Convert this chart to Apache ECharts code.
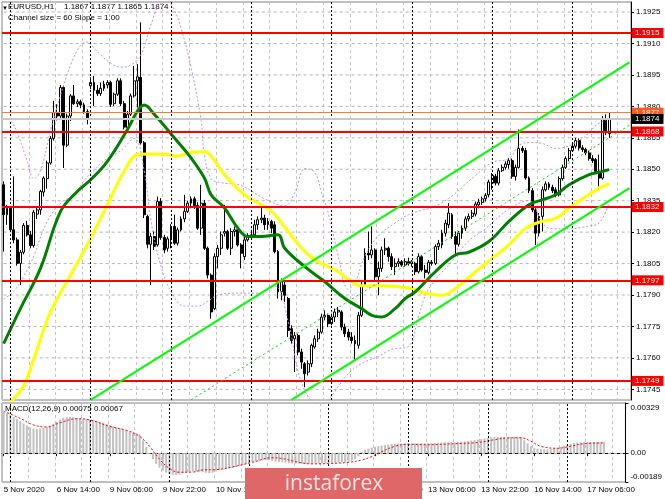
<!DOCTYPE html>
<html>
<head>
<meta charset="utf-8">
<title>EURUSD H1</title>
<script src="https://cdn.jsdelivr.net/npm/echarts@6.0.0/dist/echarts.min.js"></script>
<style>
  html, body { margin: 0; padding: 0; background: #fff; }
  #chart { width: 665px; height: 499px; }
</style>
</head>
<body>
<div id="chart"></div>
<script>
// hourly bars, [open, close, low, high], 5 Nov 22:00 -> 17 Nov 11:00
const ohlc = [
  [1.18426, 1.18283, 1.18107, 1.18442], [1.18283, 1.18314, 1.18235, 1.18330], [1.18314, 1.18211, 1.18203, 1.18322],
  [1.18211, 1.18163, 1.18147, 1.18466], [1.18163, 1.18051, 1.18040, 1.18174], [1.18051, 1.18104, 1.17947, 1.18115],
  [1.18104, 1.18232, 1.18094, 1.18243], [1.18232, 1.18187, 1.18179, 1.18254], [1.18187, 1.18136, 1.18123, 1.18206],
  [1.18136, 1.18295, 1.18126, 1.18306], [1.18286, 1.18306, 1.18263, 1.18318], [1.18306, 1.18394, 1.18283, 1.18402],
  [1.18391, 1.18458, 1.18370, 1.18466], [1.18455, 1.18530, 1.18407, 1.18541], [1.18530, 1.18647, 1.18522, 1.18658],
  [1.18647, 1.18770, 1.18637, 1.18826], [1.18770, 1.18754, 1.18733, 1.18810], [1.18754, 1.18890, 1.18743, 1.18902],
  [1.18890, 1.18615, 1.18506, 1.18898], [1.18615, 1.18754, 1.18605, 1.18765], [1.18754, 1.18850, 1.18730, 1.18858],
  [1.18850, 1.18813, 1.18807, 1.18902], [1.18813, 1.18822, 1.18797, 1.18834], [1.18822, 1.18807, 1.18791, 1.18832],
  [1.18807, 1.18775, 1.18765, 1.18818], [1.18775, 1.18743, 1.18714, 1.18786], [1.18898, 1.18914, 1.18882, 1.18938],
  [1.18914, 1.18877, 1.18802, 1.18945], [1.18877, 1.18861, 1.18850, 1.18902], [1.18861, 1.18886, 1.18850, 1.18914],
  [1.18886, 1.18906, 1.18874, 1.18922], [1.18902, 1.18914, 1.18886, 1.18925], [1.18914, 1.18810, 1.18797, 1.18922],
  [1.18813, 1.18858, 1.18802, 1.18866], [1.18858, 1.18922, 1.18850, 1.18934], [1.18922, 1.18813, 1.18802, 1.18934],
  [1.18813, 1.18701, 1.18690, 1.18826], [1.18698, 1.18762, 1.18682, 1.18778], [1.18762, 1.18850, 1.18754, 1.18861],
  [1.18850, 1.18922, 1.18842, 1.18993], [1.18922, 1.18941, 1.18794, 1.19001], [1.18938, 1.18626, 1.18618, 1.19201],
  [1.18626, 1.18283, 1.18267, 1.18634], [1.18275, 1.18142, 1.18123, 1.18283], [1.18142, 1.18179, 1.17947, 1.18195],
  [1.18179, 1.18131, 1.18115, 1.18203], [1.18139, 1.18346, 1.18131, 1.18370], [1.18346, 1.18174, 1.18163, 1.18362],
  [1.18174, 1.18115, 1.18099, 1.18187], [1.18123, 1.18168, 1.18107, 1.18179], [1.18168, 1.18227, 1.18123, 1.18238],
  [1.18227, 1.18147, 1.18139, 1.18283], [1.18147, 1.18211, 1.18136, 1.18222], [1.18211, 1.18263, 1.18203, 1.18275],
  [1.18263, 1.18299, 1.18247, 1.18378], [1.18299, 1.18338, 1.18291, 1.18350], [1.18338, 1.18359, 1.18314, 1.18370],
  [1.18359, 1.18327, 1.18311, 1.18370], [1.18327, 1.18219, 1.18211, 1.18343], [1.18219, 1.18338, 1.18187, 1.18426],
  [1.18338, 1.18123, 1.18115, 1.18354], [1.18123, 1.17995, 1.17979, 1.18131], [1.17995, 1.17819, 1.17787, 1.18003],
  [1.17835, 1.18083, 1.17827, 1.18099], [1.18083, 1.18123, 1.18027, 1.18139], [1.18123, 1.18187, 1.18091, 1.18203],
  [1.18195, 1.18203, 1.18179, 1.18330], [1.18203, 1.18123, 1.18115, 1.18211], [1.18123, 1.18203, 1.18091, 1.18219],
  [1.18203, 1.18211, 1.18179, 1.18227], [1.18211, 1.18139, 1.18131, 1.18219], [1.18139, 1.18099, 1.18027, 1.18147],
  [1.18083, 1.18163, 1.18067, 1.18179], [1.18163, 1.18179, 1.18155, 1.18195], [1.18179, 1.18187, 1.18163, 1.18211],
  [1.18187, 1.18235, 1.18179, 1.18259], [1.18235, 1.18259, 1.18211, 1.18275], [1.18259, 1.18267, 1.18243, 1.18322],
  [1.18267, 1.18235, 1.18211, 1.18283], [1.18235, 1.18251, 1.18211, 1.18267], [1.18251, 1.18219, 1.18195, 1.18259],
  [1.18235, 1.18107, 1.18099, 1.18251], [1.18107, 1.17915, 1.17883, 1.18115], [1.17915, 1.17963, 1.17875, 1.17979],
  [1.17947, 1.17899, 1.17867, 1.17963], [1.17883, 1.17731, 1.17699, 1.17891], [1.17739, 1.17683, 1.17668, 1.17755],
  [1.17691, 1.17707, 1.17532, 1.17723], [1.17707, 1.17628, 1.17612, 1.17715], [1.17628, 1.17580, 1.17548, 1.17644],
  [1.17572, 1.17524, 1.17460, 1.17580], [1.17532, 1.17572, 1.17516, 1.17588], [1.17572, 1.17660, 1.17556, 1.17668],
  [1.17652, 1.17691, 1.17644, 1.17707], [1.17691, 1.17723, 1.17676, 1.17739], [1.17723, 1.17795, 1.17715, 1.17811],
  [1.17795, 1.17803, 1.17779, 1.17827], [1.17803, 1.17763, 1.17747, 1.17811], [1.17763, 1.17795, 1.17755, 1.17811],
  [1.17795, 1.17819, 1.17771, 1.17835], [1.17819, 1.17827, 1.17795, 1.17843], [1.17819, 1.17747, 1.17731, 1.17827],
  [1.17747, 1.17715, 1.17699, 1.17763], [1.17723, 1.17699, 1.17683, 1.17739], [1.17699, 1.17683, 1.17668, 1.17723],
  [1.17683, 1.17668, 1.17588, 1.17707], [1.17660, 1.17803, 1.17644, 1.17819], [1.17803, 1.17947, 1.17795, 1.17963],
  [1.17947, 1.18099, 1.17939, 1.18123], [1.18099, 1.18091, 1.18067, 1.18203], [1.18091, 1.18115, 1.18075, 1.18227],
  [1.18115, 1.17987, 1.17971, 1.18123], [1.17987, 1.18027, 1.17899, 1.18059], [1.18027, 1.18115, 1.18011, 1.18131],
  [1.18115, 1.18123, 1.18091, 1.18171], [1.18123, 1.18083, 1.18059, 1.18131], [1.18083, 1.18035, 1.18019, 1.18099],
  [1.18035, 1.18051, 1.17995, 1.18075], [1.18051, 1.18059, 1.18035, 1.18075], [1.18059, 1.18043, 1.18035, 1.18067],
  [1.18043, 1.18059, 1.18035, 1.18075], [1.18059, 1.18051, 1.18040, 1.18078], [1.18051, 1.18059, 1.18035, 1.18067],
  [1.18051, 1.18011, 1.17995, 1.18059], [1.18011, 1.18083, 1.18003, 1.18099], [1.18083, 1.18019, 1.18011, 1.18091],
  [1.18019, 1.18008, 1.17979, 1.18043], [1.18008, 1.18056, 1.17998, 1.18067], [1.18056, 1.18051, 1.18040, 1.18067],
  [1.18051, 1.18131, 1.18043, 1.18142], [1.18131, 1.18147, 1.18115, 1.18163], [1.18139, 1.18195, 1.18123, 1.18211],
  [1.18195, 1.18243, 1.18179, 1.18259], [1.18235, 1.18291, 1.18219, 1.18338], [1.18283, 1.18179, 1.18168, 1.18291],
  [1.18179, 1.18142, 1.18091, 1.18203], [1.18142, 1.18195, 1.18131, 1.18206], [1.18195, 1.18219, 1.18168, 1.18232],
  [1.18219, 1.18263, 1.18206, 1.18275], [1.18263, 1.18275, 1.18251, 1.18289], [1.18275, 1.18291, 1.18263, 1.18306],
  [1.18286, 1.18334, 1.18275, 1.18346], [1.18330, 1.18343, 1.18314, 1.18359], [1.18342, 1.18359, 1.18330, 1.18370],
  [1.18359, 1.18375, 1.18346, 1.18386], [1.18378, 1.18439, 1.18366, 1.18450], [1.18434, 1.18471, 1.18402, 1.18482],
  [1.18466, 1.18434, 1.18423, 1.18478], [1.18434, 1.18493, 1.18423, 1.18506], [1.18493, 1.18509, 1.18487, 1.18522],
  [1.18509, 1.18525, 1.18498, 1.18538], [1.18522, 1.18541, 1.18503, 1.18554], [1.18541, 1.18466, 1.18455, 1.18551],
  [1.18466, 1.18509, 1.18446, 1.18522], [1.18509, 1.18599, 1.18503, 1.18690], [1.18599, 1.18589, 1.18578, 1.18610],
  [1.18589, 1.18458, 1.18450, 1.18602], [1.18458, 1.18398, 1.18386, 1.18466], [1.18398, 1.18306, 1.18295, 1.18410],
  [1.18306, 1.18195, 1.18139, 1.18322], [1.18195, 1.18275, 1.18179, 1.18291], [1.18275, 1.18402, 1.18203, 1.18418],
  [1.18402, 1.18430, 1.18394, 1.18442], [1.18430, 1.18414, 1.18402, 1.18438], [1.18414, 1.18398, 1.18386, 1.18426],
  [1.18402, 1.18378, 1.18366, 1.18414], [1.18378, 1.18455, 1.18370, 1.18466], [1.18455, 1.18509, 1.18446, 1.18522],
  [1.18509, 1.18551, 1.18501, 1.18562], [1.18551, 1.18589, 1.18538, 1.18602], [1.18589, 1.18610, 1.18583, 1.18626],
  [1.18610, 1.18637, 1.18599, 1.18650], [1.18637, 1.18602, 1.18589, 1.18647], [1.18602, 1.18594, 1.18583, 1.18615],
  [1.18594, 1.18578, 1.18567, 1.18602], [1.18578, 1.18551, 1.18541, 1.18589], [1.18551, 1.18541, 1.18530, 1.18567],
  [1.18546, 1.18490, 1.18478, 1.18554], [1.18490, 1.18458, 1.18418, 1.18570], [1.18458, 1.18738, 1.18450, 1.18754],
  [1.18738, 1.18674, 1.18663, 1.18762], [1.1867, 1.1874, 1.1865, 1.1877]
]

// moving averages and bands, [bar index, price]
const maGreen = [
  [0, 1.17668], [5, 1.17835], [11, 1.18027], [17, 1.18299], [22, 1.18394], [26, 1.18450], [31, 1.18538],
  [37, 1.18690], [40, 1.18778], [42, 1.18807], [45, 1.18762], [51, 1.18650], [56, 1.18554], [60, 1.18458],
  [62, 1.18378], [66, 1.18315], [70, 1.18219], [73, 1.18179], [77, 1.18179], [82, 1.18187], [84, 1.18123],
  [90, 1.18035], [96, 1.17963], [102, 1.17883], [107, 1.17835], [110, 1.17803], [113, 1.17795], [117, 1.17835],
  [120, 1.17883], [123, 1.17915], [129, 1.18011], [135, 1.18091], [139, 1.18104], [145, 1.18155], [151, 1.18251],
  [157, 1.18331], [161, 1.18354], [165, 1.18378], [169, 1.18426], [175, 1.18474], [179, 1.18490], [181, 1.18498]
]
const maYellow = [
  [2, 1.17388], [6, 1.17468], [9, 1.17596], [14, 1.17819], [20, 1.17995], [26, 1.18171], [31, 1.18331],
  [36, 1.18490], [40, 1.18570], [43, 1.18573], [49, 1.18570], [52, 1.18562], [55, 1.18578], [60, 1.18583],
  [62, 1.18562], [66, 1.18474], [72, 1.18378], [80, 1.18299], [85, 1.18203], [90, 1.18107], [94, 1.18059],
  [100, 1.18011], [104, 1.17963], [107, 1.17944], [113, 1.17944], [118, 1.17939], [123, 1.17928], [125, 1.17912],
  [131, 1.17899], [135, 1.17931], [141, 1.18011], [146, 1.18075], [151, 1.18139], [156, 1.18219], [160, 1.18247],
  [165, 1.18267], [169, 1.18315], [174, 1.18370], [178, 1.18410], [181, 1.18430]
]
const bandUpper = [
  [0, 1.18743], [2, 1.18733], [4, 1.18676], [7, 1.18541], [9, 1.18455], [11, 1.18493], [14, 1.18685],
  [17, 1.18853], [20, 1.18997], [23, 1.19092], [25, 1.19107], [27, 1.19078], [29, 1.19045], [32, 1.19006],
  [35, 1.18987], [38, 1.18997], [41, 1.19045], [44, 1.19188], [47, 1.19294], [49, 1.19299], [51, 1.19260],
  [53, 1.19174], [56, 1.18987], [59, 1.18733], [60, 1.18565], [62, 1.18455], [65, 1.18436], [71, 1.18422],
  [78, 1.18359], [84, 1.18326], [87, 1.18388], [90, 1.18503], [93, 1.18484], [95, 1.18388], [97, 1.18292],
  [100, 1.18086], [103, 1.17928], [105, 1.17960], [108, 1.18086], [112, 1.18182], [117, 1.18244], [121, 1.18283],
  [131, 1.18340], [141, 1.18470], [146, 1.18532], [151, 1.18551], [154, 1.18613], [157, 1.18628], [161, 1.18623],
  [165, 1.18599], [173, 1.18647], [177, 1.18709], [181, 1.18743]
]
const bandLower = [
  [0, 1.17880], [3, 1.17918], [6, 1.17990], [9, 1.18086], [12, 1.18216], [15, 1.18302], [18, 1.18350],
  [21, 1.18374], [24, 1.18446], [27, 1.18494], [30, 1.18541], [35, 1.18589], [39, 1.18647], [42, 1.18493],
  [44, 1.18254], [47, 1.18038], [50, 1.17918], [54, 1.17847], [58, 1.17847], [61, 1.17870], [64, 1.17900],
  [70, 1.17909], [76, 1.17909], [81, 1.17942], [85, 1.17775], [88, 1.17535], [91, 1.17415], [94, 1.17382],
  [97, 1.17401], [100, 1.17463], [103, 1.17525], [107, 1.17573], [112, 1.17607], [116, 1.17641], [121, 1.17655],
  [124, 1.17799], [127, 1.17928], [134, 1.18062], [139, 1.18158], [144, 1.18216], [151, 1.18311], [157, 1.18350],
  [161, 1.18244], [164, 1.18216], [169, 1.18216], [175, 1.18230], [178, 1.18244], [181, 1.18340]
]

// linear channel, end points [bar index, price]
const channelUpper = [[26, 1.1740], [187, 1.1901]]
const channelMid = [[56, 1.1740], [187, 1.1871]]
const channelLower = [[86, 1.1740], [187, 1.1841]]

// MACD main (histogram) per bar and signal line points
const macdHist = [
  0.00270, 0.00262, 0.00250, 0.00238, 0.00225, 0.00210, 0.00195, 0.00182, 0.00170, 0.00162,
  0.00160, 0.00162, 0.00166, 0.00172, 0.00180, 0.00192, 0.00205, 0.00220, 0.00232, 0.00236,
  0.00238, 0.00236, 0.00232, 0.00228, 0.00225, 0.00222, 0.00220, 0.00216, 0.00212, 0.00206,
  0.00200, 0.00192, 0.00184, 0.00176, 0.00170, 0.00164, 0.00158, 0.00150, 0.00142, 0.00135,
  0.00130, 0.00124, 0.00085, 0.00040, -0.00005, -0.00040, -0.00070, -0.00095, -0.00115, -0.00128,
  -0.00138, -0.00143, -0.00144, -0.00140, -0.00132, -0.00126, -0.00122, -0.00120, -0.00121, -0.00122,
  -0.00125, -0.00128, -0.00132, -0.00128, -0.00120, -0.00112, -0.00106, -0.00102, -0.00100, -0.00098,
  -0.00092, -0.00085, -0.00078, -0.00072, -0.00066, -0.00060, -0.00055, -0.00050, -0.00047, -0.00046,
  -0.00046, -0.00050, -0.00055, -0.00058, -0.00060, -0.00062, -0.00065, -0.00067, -0.00068, -0.00069,
  -0.00070, -0.00070, -0.00069, -0.00068, -0.00067, -0.00066, -0.00065, -0.00065, -0.00064, -0.00063,
  -0.00062, -0.00061, -0.00060, -0.00058, -0.00055, -0.00050, -0.00038, -0.00020, 0.00005, 0.00020,
  0.00030, 0.00036, 0.00041, 0.00046, 0.00050, 0.00053, 0.00056, 0.00059, 0.00061, 0.00063,
  0.00064, 0.00064, 0.00064, 0.00064, 0.00064, 0.00064, 0.00065, 0.00065, 0.00066, 0.00067,
  0.00068, 0.00069, 0.00070, 0.00071, 0.00071, 0.00072, 0.00072, 0.00073, 0.00075, 0.00077,
  0.00080, 0.00083, 0.00086, 0.00089, 0.00092, 0.00096, 0.00100, 0.00103, 0.00105, 0.00107,
  0.00108, 0.00108, 0.00108, 0.00107, 0.00108, 0.00107, 0.00100, 0.00085, 0.00065, 0.00045,
  0.00035, 0.00030, 0.00028, 0.00026, 0.00025, 0.00026, 0.00030, 0.00036, 0.00043, 0.00050,
  0.00056, 0.00062, 0.00066, 0.00070, 0.00072, 0.00073, 0.00074, 0.00073, 0.00072, 0.00074,
  0.00075, 0.00075
]
const macdSignal = [
  [0, 0.00275], [5, 0.00228], [9, 0.00185], [13, 0.00172], [17, 0.00200], [22, 0.00226], [26, 0.00218],
  [32, 0.00175], [37, 0.00150], [41, 0.00110], [44, 0.00045], [47, -0.00040], [50, -0.00100], [53, -0.00125],
  [57, -0.00124], [60, -0.00110], [64, -0.00108], [69, -0.00090], [75, -0.00060], [81, -0.00030], [84, -0.00035],
  [89, -0.00060], [93, -0.00070], [98, -0.00068], [104, -0.00060], [108, -0.00045], [111, -0.00022], [114, 0.00010],
  [118, 0.00045], [122, 0.00058], [128, 0.00055], [133, 0.00059], [138, 0.00064], [143, 0.00070], [148, 0.00088],
  [152, 0.00100], [156, 0.00101], [159, 0.00078], [162, 0.00045], [167, 0.00032], [171, 0.00046], [175, 0.00062],
  [181, 0.00067]
]

const redLevels = [1.1915, 1.1868, 1.1832, 1.1797, 1.1749]
const highLevel = 1.1877
const bidLevel = 1.1874
const priceTicks = [1.1745, 1.1760, 1.1775, 1.1790, 1.1805, 1.1820, 1.1835, 1.1850, 1.1865, 1.1880, 1.1895, 1.1910, 1.1925]
const macdTicks = [-0.00189, 0, 0.00329]
const tickLabels = ['5 Nov 2020', '6 Nov 14:00', '9 Nov 06:00', '9 Nov 22:00', '10 Nov 14:00', '11 Nov 06:00',
  '11 Nov 22:00', '12 Nov 14:00', '13 Nov 06:00', '13 Nov 22:00', '16 Nov 14:00', '17 Nov 06:00']
const sessionDays = ['5 Nov', '6 Nov', '9 Nov', '10 Nov', '11 Nov', '12 Nov', '13 Nov', '16 Nov', '17 Nov']
const dayBreaks = ['6 Nov 00:00', '9 Nov 00:00', '10 Nov 00:00', '11 Nov 00:00', '12 Nov 00:00',
  '13 Nov 00:00', '16 Nov 00:00', '17 Nov 00:00']

// hourly categories, chart starts at 5 Nov 22:00 and leaves room after the last bar
const categories = []
sessionDays.forEach((d, i) => {
  const from = i === 0 ? 22 : 0
  const to = i === sessionDays.length - 1 ? 17 : 23
  for (let h = from; h <= to; h++) categories.push(d + ' ' + String(h).padStart(2, '0') + ':00')
})
const lastIdx = categories.length - 1

const FONT = "'Liberation Sans', Arial, sans-serif"
const gridDash = { color: '#c4c4c4', type: [3, 3], width: 1 }
const hGridDash = { color: '#b4b4b4', type: [3, 3], width: 1 }
const sepDash = { color: '#000', type: [2, 2], width: 1 }

const levelLabel = (bg) => ({
  show: true, position: 'end', distance: 1,
  formatter: p => Number(p.value).toFixed(4),
  color: '#fff', backgroundColor: bg, padding: [1, 4, 1, 3],
  fontSize: 8, fontFamily: FONT
})

// horizontal price grid drawn as flat line series across the whole time range
const priceGridSeries = priceTicks.map(v => ({
  type: 'line', xAxisIndex: 0, yAxisIndex: 0, data: [[0, v], [lastIdx, v]], z: 1, silent: true,
  symbol: 'none', lineStyle: hGridDash
}))

const chart = echarts.init(document.getElementById('chart'))

const options = {
  animation: false,
  backgroundColor: '#fff',
  grid: [
    { left: 2, right: 34, top: 2, height: 398, show: true, borderColor: '#808080', borderWidth: 1 },
    { left: 2, right: 34, top: 403, height: 79, show: true, borderColor: '#808080', borderWidth: 1 }
  ],
  xAxis: [
    {
      type: 'category', gridIndex: 0, data: categories,
      axisLine: { show: false }, axisTick: { show: false }, axisLabel: { show: false },
      splitLine: { show: true, interval: 7, lineStyle: gridDash }
    },
    {
      type: 'category', gridIndex: 1, data: categories,
      axisLine: { show: true, lineStyle: { color: '#000' } },
      axisTick: { show: true, interval: 15, alignWithLabel: true, length: 3, lineStyle: { color: '#000' } },
      axisLabel: {
        interval: 15, align: 'left', margin: 4, fontSize: 8, fontFamily: FONT, color: '#000',
        formatter: (v, i) => tickLabels[i / 16] || ''
      },
      splitLine: { show: true, interval: 7, lineStyle: gridDash }
    }
  ],
  yAxis: [
    {
      type: 'value', gridIndex: 0, position: 'right', min: 1.17399, max: 1.19298, scale: true,
      axisLine: { show: true, lineStyle: { color: '#000' } },
      axisTick: { show: true, length: 3, customValues: priceTicks, lineStyle: { color: '#000' } },
      axisLabel: {
        customValues: priceTicks, margin: 5, fontSize: 8, fontFamily: FONT, color: '#000',
        formatter: v => v.toFixed(4)
      },
      splitLine: { show: false }
    },
    {
      type: 'value', gridIndex: 1, position: 'right', min: -0.00189, max: 0.00329,
      axisLine: { show: true, lineStyle: { color: '#000' } },
      axisTick: { show: true, length: 3, customValues: macdTicks, lineStyle: { color: '#000' } },
      axisLabel: {
        customValues: macdTicks, margin: 5, fontSize: 8, fontFamily: FONT, color: '#000',
        formatter: v => v > 0 ? '{top|' + v.toFixed(5) + '}' : v < 0 ? '{bot|' + v.toFixed(5) + '}' : '0.00',
        rich: {
          top: { padding: [10, 0, 0, 0], fontSize: 8, fontFamily: FONT, color: '#000' },
          bot: { padding: [0, 0, 10, 0], fontSize: 8, fontFamily: FONT, color: '#000' }
        }
      },
      splitLine: { show: false }
    }
  ],
  graphic: [
    { type: 'text', x: 2, y: 5, style: { text: '▼', font: '6px ' + FONT, fill: '#000' } },
    { type: 'text', x: 8, y: 3, style: { text: 'EURUSD,H1', font: '8px ' + FONT, fill: '#000' } },
    { type: 'text', x: 64, y: 3, style: { text: '1.1867 1.1877 1.1865 1.1874', font: '8px ' + FONT, fill: '#000' } },
    { type: 'text', x: 8, y: 14, style: { text: 'Channel size = 60 Slope = 1.00', font: '8px ' + FONT, fill: '#000' } },
    { type: 'text', x: 5, y: 405, z: 10, style: { text: 'MACD(12,26,9) 0.00075 0.00067', font: '8px ' + FONT, fill: '#000' } },
    { type: 'rect', x: 245, y: 468, z: 20, shape: { width: 177, height: 31 }, style: { fill: '#e06767' } },
    {
      type: 'text', x: 334, y: 484, z: 21,
      style: { text: 'instaforex', font: '21px "Open Sans", sans-serif', fill: '#fbe4e4', align: 'center', verticalAlign: 'middle' }
    }
  ],
  series: priceGridSeries.concat([
    {
      // day separators
      type: 'line', xAxisIndex: 0, yAxisIndex: 0, data: [], z: 1, silent: true,
      markLine: {
        silent: true, symbol: 'none', precision: 6,
        data: dayBreaks.map(d => ({ xAxis: d, lineStyle: sepDash, label: { show: false } }))
      }
    },
    {
      type: 'candlestick', xAxisIndex: 0, yAxisIndex: 0, data: ohlc, z: 2, barWidth: 2.4,
      itemStyle: { color: '#fff', color0: '#000', borderColor: '#000', borderColor0: '#000', borderWidth: 1 }
    },
    {
      type: 'line', xAxisIndex: 0, yAxisIndex: 0, data: bandUpper, z: 3, smooth: 0.4, symbol: 'none',
      lineStyle: { color: '#c38cf0', width: 1, type: [2, 2] }
    },
    {
      type: 'line', xAxisIndex: 0, yAxisIndex: 0, data: bandLower, z: 3, smooth: 0.4, symbol: 'none',
      lineStyle: { color: '#c38cf0', width: 1, type: [2, 2] }
    },
    {
      type: 'line', xAxisIndex: 0, yAxisIndex: 0, data: maYellow, z: 4, smooth: 0.4, symbol: 'none',
      lineStyle: { color: '#ffff00', width: 3 }
    },
    {
      type: 'line', xAxisIndex: 0, yAxisIndex: 0, data: maGreen, z: 4, smooth: 0.4, symbol: 'none',
      lineStyle: { color: '#008000', width: 3 }
    },
    {
      type: 'line', xAxisIndex: 0, yAxisIndex: 0, data: channelUpper, z: 5, symbol: 'none',
      lineStyle: { color: '#00ff00', width: 2 }
    },
    {
      type: 'line', xAxisIndex: 0, yAxisIndex: 0, data: channelLower, z: 5, symbol: 'none',
      lineStyle: { color: '#00ff00', width: 2 }
    },
    {
      type: 'line', xAxisIndex: 0, yAxisIndex: 0, data: channelMid, z: 5, symbol: 'none',
      lineStyle: { color: '#00e000', width: 1, type: [2, 3] }
    },
    {
      // horizontal levels with price tags
      type: 'line', xAxisIndex: 0, yAxisIndex: 0, data: [], z: 6, silent: true,
      markLine: {
        silent: true, symbol: 'none', precision: 6,
        data: redLevels.map(v => ({ yAxis: v, lineStyle: { color: '#ff0000', width: 2, type: 'solid' }, label: levelLabel('#ff0000') }))
          .concat([
            { yAxis: highLevel, lineStyle: { color: '#ff7a30', width: 1, type: 'solid' }, label: levelLabel('#ff5a1e') },
            { yAxis: bidLevel, lineStyle: { color: '#c8c8c8', width: 2, type: 'solid' }, label: levelLabel('#000000') }
          ])
      }
    },
    {
      // MACD grid
      type: 'line', xAxisIndex: 1, yAxisIndex: 1, data: [], z: 1, silent: true,
      markLine: {
        silent: true, symbol: 'none', precision: 6, label: { show: false },
        data: [{ yAxis: 0, lineStyle: hGridDash }].concat(dayBreaks.map(d => ({ xAxis: d, lineStyle: sepDash })))
      }
    },
    {
      type: 'bar', xAxisIndex: 1, yAxisIndex: 1, data: macdHist, z: 2, barWidth: 2,
      itemStyle: { color: '#c0c0c0' }
    },
    {
      type: 'line', xAxisIndex: 1, yAxisIndex: 1, data: macdSignal, z: 3, smooth: 0.4, symbol: 'none',
      lineStyle: { color: '#ff0000', width: 1, type: [2, 2] }
    }
  ])
}

chart.setOption(options)
</script>
</body>
</html>
